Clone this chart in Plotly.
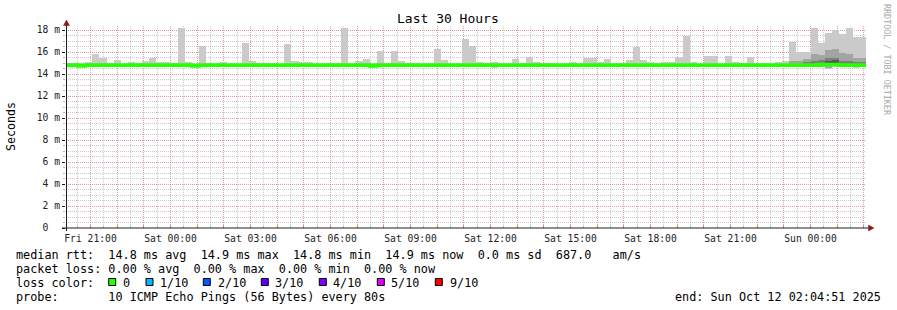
import plotly.graph_objects as go
from datetime import datetime, timedelta

# ---------------- data ----------------
first_bin = datetime(2025, 10, 10, 20, 0, 0)
bin_minutes = 16
t_start = datetime(2025, 10, 10, 20, 4, 51)
t_end = datetime(2025, 10, 12, 2, 4, 51)

# outer smoke band (max / min of the 10 pings), ms
smoke_max = [
    15.0, 15.0, 15.0, 15.09, 15.82, 15.45, 15.0, 15.27, 14.95, 15.09,
    15.0, 15.18, 15.45, 15.09, 15.09, 15.0, 18.18, 15.09, 14.95, 16.55,
    15.0, 14.95, 15.09, 14.95, 14.95, 16.82, 15.18, 15.0, 15.0, 14.95,
    14.95, 16.7, 15.18, 15.09, 15.09, 14.95, 14.95, 15.0, 15.0, 18.18,
    14.95, 15.18, 15.36, 15.0, 16.09, 14.95, 16.09, 15.18, 15.0, 15.0,
    14.95, 14.9, 16.3, 15.3, 14.95, 14.95, 17.2, 16.55, 15.09, 15.0,
    15.09, 14.95, 14.95, 15.4, 15.0, 15.55, 15.09, 15.0, 15.0, 14.95,
    14.95, 15.09, 14.95, 15.45, 15.45, 15.09, 15.36, 14.95, 15.0, 15.3,
    16.45, 15.3, 15.09, 15.0, 15.09, 15.09, 15.55, 17.45, 15.05, 14.95,
    15.64, 15.64, 14.95, 15.64, 15.09, 15.0, 15.55, 14.95, 15.0, 14.95,
    15.09, 15.18, 16.9, 16.0, 16.0, 18.18, 16.82, 17.7, 18.0, 17.64,
    18.18, 17.4, 17.4,
]
smoke_min = [14.72] * len(smoke_max)
low_points = {2: 14.6, 18: 14.62, 23: 14.68, 43: 14.62, 45: 14.62, 54: 14.62,
              60: 14.55, 88: 14.7, 105: 14.62, 106: 14.62, 107: 14.5,
              108: 14.65, 109: 14.62, 110: 14.65, 111: 14.55, 112: 14.6}
for k, v in low_points.items():
    smoke_min[k] = v

# inner smoke bands (only in the last bins)
inner_start = 100
mid_hi = [None, None, 15.18, 15.18, 15.39, 15.85, 15.7, 16.2, 16.3, 15.9, 15.85, 15.5, 15.5]
mid_lo = [None, None, 14.9, 14.9, 14.7, 14.64, 14.64, 14.55, 14.7, 14.7, 14.8, 14.6, 14.7]
core_hi = [None, None, None, None, 15.1, 15.18, 15.3, 15.45, 15.45, 15.18, 15.18, 15.09, 15.1]
core_lo = [None, None, None, None, 14.85, 14.9, 14.88, 14.85, 14.85, 14.8, 14.8, 14.8, 14.8]
dark_hi = [None, None, None, None, None, None, None, 15.18, 15.3, None, None, None, None]
dark_lo = [None, None, None, None, None, None, None, 14.95, 14.95, None, None, None, None]

# median rtt per bin (ms)
median = [14.8] * len(smoke_max)
for k in (2, 18, 43):
    median[k] = 14.75
for k in (106, 107, 108):
    median[k] = 14.85

y_ticks = [0, 2, 4, 6, 8, 10, 12, 14, 16, 18]

legend_row1 = "median rtt:  14.8 ms avg  14.9 ms max  14.8 ms min  14.9 ms now  0.0 ms sd  687.0   am/s"
legend_row2 = "packet loss: 0.00 % avg  0.00 % max  0.00 % min  0.00 % now"
legend_row4 = "probe:       10 ICMP Echo Pings (56 Bytes) every 80s"
end_text = "end: Sun Oct 12 02:04:51 2025"
loss_labels = ["0", "1/10", "2/10", "3/10", "4/10", "5/10", "9/10"]
loss_colors = ["#26ff00", "#00b8ff", "#0059ff", "#5e00ff", "#7e00ff", "#dd00ff", "#ff0000"]

# ---------------- layout geometry ----------------
W, H = 897, 310
L, R, T, B = 66, 31, 26, 82
PW, PH = W - L - R, H - T - B
PX_PER_MS = 11.0

def px(x):
    return (x - L) / PW

def py(y):
    return (H - B - y) / PH

FONT = "DejaVu Sans Mono"
GRID = "rgba(150,150,150,0.5)"
MGRID = "rgba(245,90,90,0.4)"
AXIS = "#1f1f1f"
ARROW = "#801f1f"
SMOKE = ["#cacaca", "#a4a4a4", "#7e7e7e", "#585858"]

n = len(smoke_max)
bin_start = [first_bin + timedelta(minutes=bin_minutes * k) for k in range(n)]
bin_mid = [b + timedelta(minutes=bin_minutes / 2) for b in bin_start]
bw = bin_minutes * 60 * 1000

fig = go.Figure()

def add_band(xs, lo, hi, color):
    xx, base, hgt = [], [], []
    for x, a, b in zip(xs, lo, hi):
        if a is None or b is None:
            continue
        xx.append(x)
        base.append(a)
        hgt.append(b - a)
    fig.add_trace(go.Bar(x=xx, y=hgt, base=base, width=bw, marker=dict(color=color, line=dict(width=0)),
                         showlegend=False, hoverinfo="skip"))

add_band(bin_mid, smoke_min, smoke_max, SMOKE[0])
add_band(bin_mid[inner_start:], mid_lo, mid_hi, SMOKE[1])
add_band(bin_mid[inner_start:], core_lo, core_hi, SMOKE[2])
add_band(bin_mid[inner_start:], dark_lo, dark_hi, SMOKE[3])

edges = bin_start + [bin_start[-1] + timedelta(minutes=bin_minutes)]
fig.add_trace(go.Scatter(x=edges, y=median + [median[-1]], mode="lines",
                         line=dict(shape="hv", width=3.8, color=loss_colors[0]),
                         showlegend=False, hoverinfo="skip"))

# x ticks: every hour, labels every 3 hours
hours = []
h = datetime(2025, 10, 10, 21, 0, 0)
while h <= t_end:
    hours.append(h)
    h += timedelta(hours=1)
x_text = [t.strftime("%a %H:%M") if t.hour % 3 == 0 else "" for t in hours]

y_text = [("%d m" % v) if v else "0\u00a0\u00a0" for v in y_ticks]

fig.update_layout(
    width=W, height=H,
    margin=dict(l=L, r=R, t=T, b=B, pad=0),
    paper_bgcolor="white", plot_bgcolor="white",
    barmode="overlay", bargap=0,
    hovermode=False,
    font=dict(family=FONT, size=9.7, color="#000"),
    xaxis=dict(
        type="date", range=[t_start, t_end],
        tickmode="array", tickvals=hours, ticktext=x_text,
        showgrid=True, gridcolor=MGRID, griddash="1px,1px", gridwidth=1,
        ticks="inside", ticklen=3, tickcolor="rgba(235,100,100,0.7)", tickwidth=1,
        ticklabelstandoff=3,
        tickfont=dict(family=FONT, size=9.7, color="#222"),
        minor=dict(tickmode="linear", tick0="2025-10-10 20:30:00", dtick=30 * 60 * 1000,
                   showgrid=True, gridcolor=GRID, griddash="1px,1px", gridwidth=1,
                   ticks="inside", ticklen=2, tickcolor="rgba(150,150,150,0.7)"),
        showline=False, zeroline=False, fixedrange=True,
    ),
    yaxis=dict(
        range=[0, PH / PX_PER_MS],
        tickmode="array", tickvals=y_ticks, ticktext=y_text,
        showgrid=True, gridcolor=MGRID, griddash="1px,1px", gridwidth=1,
        ticks="outside", ticklen=3, tickcolor=AXIS, tickwidth=1,
        tickfont=dict(family=FONT, size=9.7, color="#222"),
        minor=dict(tickmode="linear", tick0=0, dtick=0.5,
                   showgrid=True, gridcolor=GRID, griddash="1px,1px", gridwidth=1,
                   ticks="outside", ticklen=2, tickcolor="rgba(150,150,150,0.7)"),
        showline=False, zeroline=False, fixedrange=True,
    ),
)

shapes = []
# axes
shapes.append(dict(type="line", xref="paper", yref="paper", x0=px(62), x1=px(869), y0=py(228), y1=py(228),
                   line=dict(color=AXIS, width=1)))
shapes.append(dict(type="line", xref="paper", yref="paper", x0=px(66.5), x1=px(66.5), y0=py(231), y1=py(25),
                   line=dict(color=AXIS, width=1)))
# arrows
shapes.append(dict(type="path", xref="paper", yref="paper",
                   path="M %f,%f L %f,%f L %f,%f Z" % (px(66.5), py(20), px(63.5), py(25.5), px(69.5), py(25.5)),
                   fillcolor=ARROW, line=dict(color=ARROW, width=0.5)))
shapes.append(dict(type="path", xref="paper", yref="paper",
                   path="M %f,%f L %f,%f L %f,%f Z" % (px(874), py(228), px(868.5), py(225), px(868.5), py(231)),
                   fillcolor=ARROW, line=dict(color=ARROW, width=0.5)))

annotations = []

def text(x, y, s, size=11.8, anchor="left", color="#000", angle=0):
    annotations.append(dict(xref="paper", yref="paper", x=px(x), y=py(y), text=s.replace(" ", "\u00a0"),
                            showarrow=False, xanchor=anchor, yanchor="middle", textangle=angle,
                            borderpad=0, borderwidth=0,
                            font=dict(family=FONT, size=size, color=color)))

text(448, 19, "Last 30 Hours", size=13, anchor="center")
text(11, 126, "Seconds", size=11.6, anchor="center", angle=-90)
text(887, 60, "RRDTOOL / TOBI OETIKER", size=8.4, anchor="center", color="#a8a8a8", angle=90)

text(15.5, 254.8, legend_row1)
text(15.5, 268.8, legend_row2)
text(15.5, 282.8, "loss color:")
text(15.5, 296.5, legend_row4)
text(881, 296.5, end_text, anchor="right")

box_left = [108.7, 146, 203.3, 261.3, 319.3, 377.3, 435.3]
label_left = [123.3, 160.7, 218.3, 276, 334, 392, 450.3]
for bx, lx, lab, col in zip(box_left, label_left, loss_labels, loss_colors):
    shapes.append(dict(type="rect", xref="paper", yref="paper", x0=px(bx), x1=px(bx + 7), y0=py(278.5), y1=py(285.5),
                       fillcolor=col, line=dict(color="#000", width=1)))
    text(lx - 0.8, 282.8, lab)

fig.update_layout(shapes=shapes, annotations=annotations)
fig.write_html("out.html")
